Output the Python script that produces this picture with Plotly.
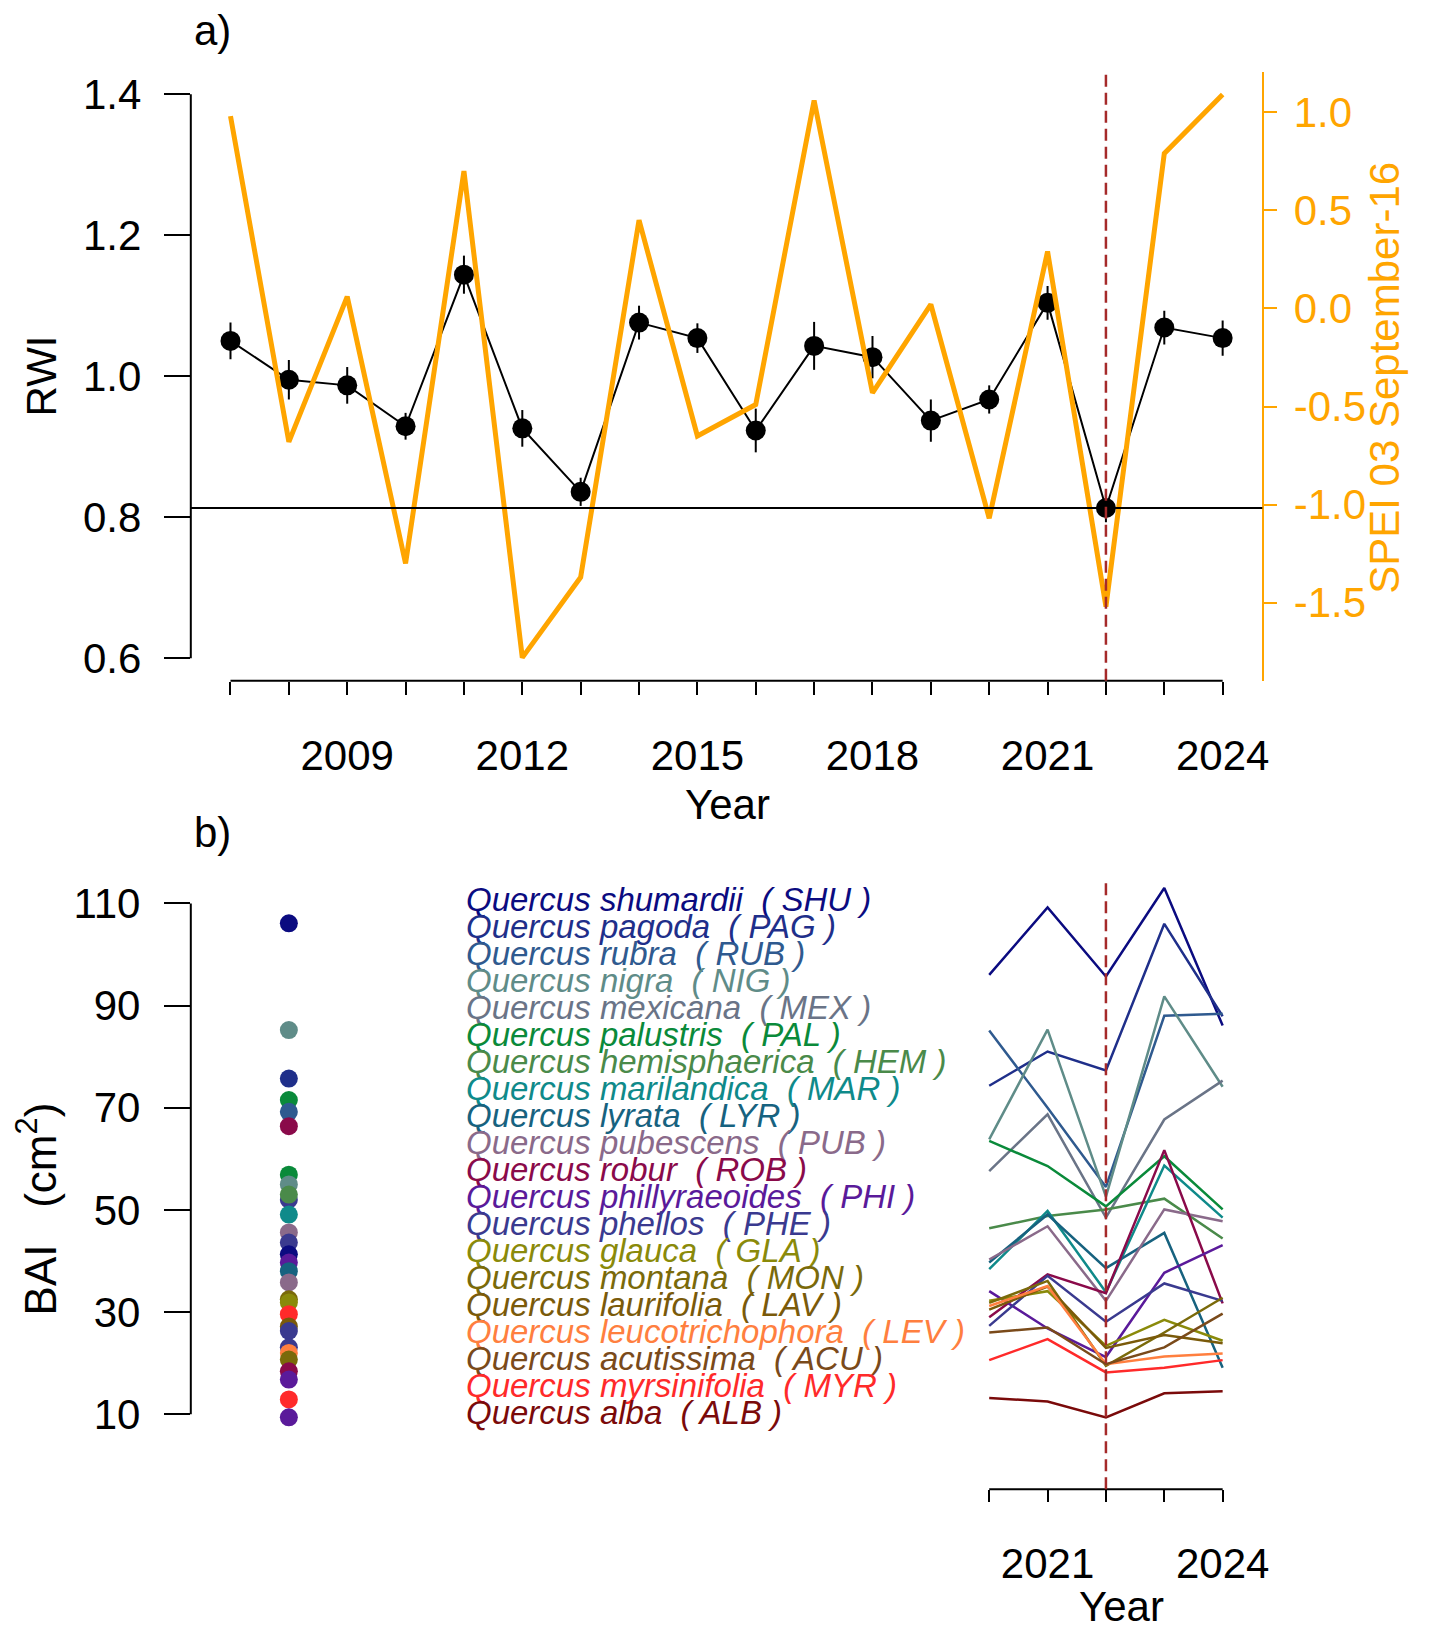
import plotly.graph_objects as go

# ---------------- data ----------------
years = list(range(2007, 2025))
rwi = [1.050, 0.995, 0.987, 0.929, 1.144, 0.926, 0.836, 1.076, 1.054,
       0.923, 1.043, 1.027, 0.937, 0.967, 1.104, 0.813, 1.069, 1.054]
rwi_err = [0.026, 0.028, 0.026, 0.019, 0.027, 0.026, 0.020, 0.024, 0.021,
           0.031, 0.034, 0.030, 0.030, 0.020, 0.024, 0.020, 0.024, 0.025]
spei = [0.98, -0.68, 0.06, -1.30, 0.70, -1.78, -1.37, 0.45, -0.65,
        -0.49, 1.06, -0.43, 0.02, -1.07, 0.29, -1.52, 0.79, 1.09]
drought_year = 2022

rwi_ticks = [0.6, 0.8, 1.0, 1.2, 1.4]
spei_ticks = [-1.5, -1.0, -0.5, 0.0, 0.5, 1.0]
year_labels = [2009, 2012, 2015, 2018, 2021, 2024]

species_names = ["shumardii", "pagoda", "rubra", "nigra", "mexicana", "palustris",
                 "hemisphaerica", "marilandica", "lyrata", "pubescens", "robur",
                 "phillyraeoides", "phellos", "glauca", "montana", "laurifolia",
                 "leucotrichophora", "acutissima", "myrsinifolia", "alba"]
species_codes = ["SHU", "PAG", "RUB", "NIG", "MEX", "PAL", "HEM", "MAR", "LYR", "PUB",
                 "ROB", "PHI", "PHE", "GLA", "MON", "LAV", "LEV", "ACU", "MYR", "ALB"]
species_colors = ["#0b0b80", "#1f2f8a", "#2f5a8f", "#5f8c88", "#6a7487", "#0a8a3a",
                  "#4a8a4a", "#0f8a8a", "#17627f", "#8a6a8a", "#8a0a4a", "#5a1a9a",
                  "#3a3a8f", "#8a8a0a", "#7a6a0a", "#7a5a0a", "#ff7f3f", "#7a4a1a",
                  "#ff2a2a", "#7a0a0a"]

bai_years = [2020, 2021, 2022, 2023, 2024]
bai = {
    "SHU": [96.0, 109.2, 95.7, 113.0, 86.1],
    "PAG": [74.3, 81.0, 77.3, 106.0, 87.9],
    "RUB": [85.1, 70.0, 54.5, 88.0, 88.4],
    "NIG": [63.8, 85.3, 52.6, 91.8, 74.1],
    "MEX": [57.6, 68.7, 48.5, 67.7, 75.3],
    "PAL": [63.5, 58.6, 50.7, 60.5, 50.1],
    "HEM": [46.4, 48.8, 50.1, 52.2, 44.4],
    "MAR": [38.4, 49.8, 33.9, 58.7, 48.5],
    "LYR": [39.7, 49.1, 38.6, 45.5, 19.1],
    "PUB": [40.3, 46.8, 32.2, 50.1, 47.8],
    "ROB": [29.0, 37.4, 33.7, 61.7, 31.7],
    "PHI": [34.1, 26.8, 21.2, 37.7, 43.1],
    "PHE": [27.3, 37.1, 28.1, 35.6, 32.2],
    "GLA": [32.2, 34.1, 23.4, 28.5, 24.4],
    "MON": [31.8, 36.1, 19.5, 26.0, 32.8],
    "LAV": [30.5, 35.0, 23.0, 25.5, 23.9],
    "LEV": [31.2, 35.1, 19.8, 21.3, 21.9],
    "ACU": [26.0, 27.0, 19.8, 23.1, 29.7],
    "MYR": [20.6, 24.7, 18.2, 19.1, 20.6],
    "ALB": [13.2, 12.5, 9.4, 14.1, 14.5],
}
bai_ticks = [10, 30, 50, 70, 90, 110]
bai_tick_labels = ["2021", "2024"]

dot_year = 2008
dot_values = [106.1, 85.2, 75.7, 71.5, 69.2, 66.4, 52.0, 56.9, 55.0, 53.0, 49.1,
              45.6, 43.6, 41.3, 39.7, 38.0, 35.8, 32.5, 31.9, 29.6, 27.2, 26.3,
              23.1, 22.0, 20.7, 18.4, 16.8, 12.9, 9.4]
dot_species = ["SHU", "NIG", "PAG", "PAL", "RUB", "ROB", "PHE", "PAL", "NIG", "HEM", "MAR",
               "PUB", "PHE", "SHU", "PHI", "LYR", "PUB", "MON", "GLA", "MYR", "LAV", "PHE",
               "PHE", "LEV", "MON", "ROB", "PHI", "MYR", "PHI"]

# ---------------- layout helpers ----------------
W, H = 1441, 1634
OFF = 8                      # page body margin of the browser
FW, FH = W - OFF, H - OFF    # figure size
FONT = "Liberation Sans, Arial, sans-serif"
ORANGE = "#FFA500"
DASH = "#A52A2A"


def px(xp):
    return (xp - OFF) / FW


def py(yp):
    return 1 - (yp - OFF) / FH


color_of = dict(zip(species_codes, species_colors))

fig = go.Figure()

# ---------------- panel a ----------------
fig.add_trace(go.Scatter(
    x=years, y=rwi, mode="lines+markers", xaxis="x", yaxis="y",
    line=dict(color="black", width=2),
    marker=dict(color="black", size=20),
    error_y=dict(type="data", array=rwi_err, width=0, thickness=2, color="black"),
    showlegend=False))
fig.add_trace(go.Scatter(
    x=years, y=spei, mode="lines", xaxis="x", yaxis="y2",
    line=dict(color=ORANGE, width=5), showlegend=False))

# ---------------- panel b ----------------
for code in species_codes:
    fig.add_trace(go.Scatter(
        x=bai_years, y=bai[code], mode="lines", xaxis="x3", yaxis="y3",
        line=dict(color=color_of[code], width=2.5), showlegend=False))
fig.add_trace(go.Scatter(
    x=[dot_year] * len(dot_values), y=dot_values, mode="markers", xaxis="x3", yaxis="y3",
    marker=dict(color=[color_of[c] for c in dot_species], size=18),
    showlegend=False))

xdom = [px(191.7), px(1268.5)]
xrange_ = [2006.32, 2024.68]
tickfont = dict(family=FONT, size=42, color="black")

fig.update_layout(
    width=FW, height=FH, margin=dict(l=0, r=0, t=0, b=0),
    paper_bgcolor="white", plot_bgcolor="white",
    font=dict(family=FONT, color="black"),
    xaxis=dict(domain=xdom, range=xrange_, anchor="y",
               tickvals=years,
               ticktext=[str(y) if y in year_labels else "" for y in years],
               ticks="outside", ticklen=13, tickwidth=2, tickcolor="black",
               tickfont=tickfont, ticklabelstandoff=25,
               showgrid=False, zeroline=False, showline=False),
    yaxis=dict(domain=[py(680.6), py(70.7)], range=[0.568, 1.432], anchor="x",
               tickvals=rwi_ticks, ticktext=[f"{v:.1f}" for v in rwi_ticks],
               ticks="outside", ticklen=26, tickwidth=2, tickcolor="black",
               tickfont=tickfont, ticklabelstandoff=14,
               showgrid=False, zeroline=False, showline=False),
    yaxis2=dict(overlaying="y", side="right", anchor="x", range=[-1.898, 1.207],
                tickvals=spei_ticks, ticktext=[f"{v:.1f}" for v in spei_ticks],
                ticks="outside", ticklen=13, tickwidth=2, tickcolor=ORANGE,
                tickfont=dict(family=FONT, size=42, color=ORANGE), ticklabelstandoff=8,
                showline=True, linecolor=ORANGE, linewidth=2,
                showgrid=False, zeroline=False),
    xaxis3=dict(domain=xdom, range=xrange_, anchor="y3",
                tickvals=bai_years,
                ticktext=[str(y) if str(y) in bai_tick_labels else "" for y in bai_years],
                ticks="outside", ticklen=12, tickwidth=2, tickcolor="black",
                tickfont=tickfont, ticklabelstandoff=25,
                showgrid=False, zeroline=False, showline=False),
    yaxis3=dict(domain=[py(1490), py(880)], range=[-4.66, 114.59], anchor="x3",
                tickvals=bai_ticks, ticktext=[str(v) for v in bai_ticks],
                ticks="outside", ticklen=26, tickwidth=2, tickcolor="black",
                tickfont=tickfont, ticklabelstandoff=15,
                showgrid=False, zeroline=False, showline=False),
)

shapes = [
    # axis lines (R style: from first to last tick)
    dict(type="line", xref="x", yref="y domain", x0=years[0], x1=years[-1], y0=0, y1=0,
         line=dict(color="black", width=2)),
    dict(type="line", xref="x domain", yref="y", x0=0, x1=0, y0=rwi_ticks[0], y1=rwi_ticks[-1],
         line=dict(color="black", width=2)),
    dict(type="line", xref="x3", yref="y3 domain", x0=bai_years[0], x1=bai_years[-1], y0=0, y1=0,
         line=dict(color="black", width=2)),
    dict(type="line", xref="x3 domain", yref="y3", x0=0, x1=0, y0=bai_ticks[0], y1=bai_ticks[-1],
         line=dict(color="black", width=2)),
    # reference lines
    dict(type="line", xref="x domain", yref="y", x0=0, x1=1, y0=min(rwi), y1=min(rwi),
         line=dict(color="black", width=2)),
    dict(type="line", xref="x", yref="y domain", x0=drought_year, x1=drought_year, y0=0, y1=1,
         line=dict(color=DASH, width=2.5, dash="12px,6px")),
    dict(type="line", xref="x3", yref="y3 domain", x0=drought_year, x1=drought_year, y0=0, y1=1,
         line=dict(color=DASH, width=2.5, dash="12px,6px")),
]
fig.update_layout(shapes=shapes)


def label(text, xp, yp, size=42, color="black", angle=0):
    return dict(text=text, x=px(xp), y=py(yp), xref="paper", yref="paper",
                xanchor="center", yanchor="middle", showarrow=False, textangle=angle,
                font=dict(family=FONT, size=size, color=color))


ann = [
    label("a)", 214, 30, size=42),
    label("b)", 214, 833, size=42),
    label("RWI", 42, 375, angle=-90),
    label("SPEI 03 September-16", 1391, 377, color=ORANGE, angle=-90),
    label("Year", 731, 804),
    label("BAI\u00a0\u00a0 (cm<sup>2</sup>)", 37, 1209, size=44, angle=-90),
    label("Year", 1127, 1607),
]

leg_top, leg_step = 899.6, 27.02
for i, (name, code) in enumerate(zip(species_names, species_codes)):
    ann.append(dict(text=f"Quercus {name}\u00a0 ( {code} )",
                    x=2011.0, xref="x3", xanchor="left",
                    y=py(leg_top + i * leg_step), yref="paper", yanchor="middle",
                    showarrow=False,
                    font=dict(family=FONT, size=33, color=color_of[code], style="italic")))
fig.update_layout(annotations=ann)

fig.write_html("out.html")
